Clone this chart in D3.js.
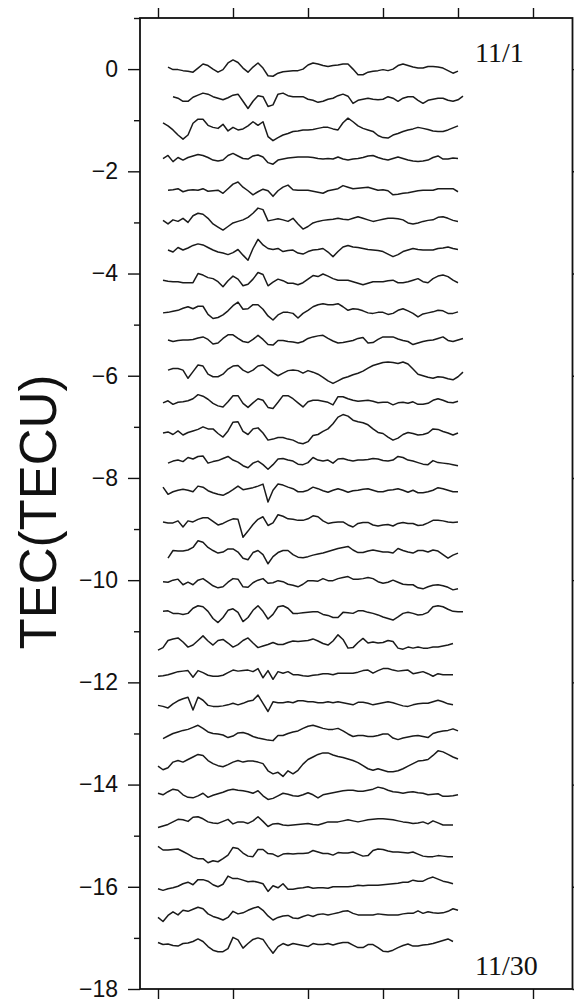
<!DOCTYPE html>
<html>
<head>
<meta charset="utf-8">
<script src="https://cdn.jsdelivr.net/npm/d3@7"></script>
<style>
  body { margin: 0; background: #fff; }
  svg { display: block; }
</style>
</head>
<body>
<svg id="chart" width="574" height="1000"></svg>
<script>
//
//Data: one trace per day, stacked downwards
//

var days = ["11/1", "11/2", "11/3", "11/4", "11/5", "11/6", "11/7", "11/8", "11/9", "11/10",
  "11/11", "11/12", "11/13", "11/14", "11/15", "11/16", "11/17", "11/18", "11/19", "11/20",
  "11/21", "11/22", "11/23", "11/24", "11/25", "11/26", "11/27", "11/28", "11/29", "11/30"];

//Vertical offset of each trace (TECU)
var baseline = [0.02, -0.57, -1.16, -1.75, -2.37, -2.95, -3.54, -4.16, -4.75, -5.30,
  -5.92, -6.51, -7.10, -7.68, -8.24, -8.86, -9.44, -10.03, -10.62, -11.21,
  -11.82, -12.41, -13.00, -13.59, -14.17, -14.74, -15.35, -15.97, -16.52, -17.14];

//Sample index where each trace begins
var startIdx = [2, 3, 1, 1, 2, 1, 2, 1, 1, 2, 2, 1, 1, 2, 1, 1, 2, 1, 1, 0, 0, 0, 1, 0, 0, 0, 0, 0, 0, 0];

//TEC variation around the offset, in 0.01 TECU
var tecDev = [
  [2,-3,-3,-5,-6,-8,0,8,5,-2,-8,-3,10,16,11,0,-8,2,10,0,-15,-16,-10,-7,-6,-5,-5,-2,6,10,8,5,3,5,6,8,8,-2,-13,-13,-8,-6,-5,-3,-5,-2,5,8,5,2,0,0,3,3,2,0,-5,-10,-6],
  [3,0,-6,-6,2,6,10,8,3,0,-3,1,6,8,-6,-20,-6,5,3,-16,-13,8,10,5,3,3,3,-2,-4,-8,-6,-2,0,5,8,4,-10,-4,-2,0,-2,-3,-2,3,0,-6,0,3,3,-4,-10,-4,-2,0,0,-4,-6,-3,4],
  [11,5,-3,-13,-21,-13,10,18,18,6,2,0,8,-5,2,-3,-1,5,13,6,13,-16,-24,-18,-13,-10,-6,-5,-3,-3,-2,0,2,2,-1,-3,11,20,13,5,0,-3,-6,-14,-18,-19,-13,-10,-6,-3,-1,2,0,-2,-5,-6,-6,-3,1,5],
  [0,6,-6,2,-3,2,5,8,6,2,-3,-5,-3,6,10,5,0,-1,5,7,3,-8,-11,-3,-1,1,2,3,3,3,2,0,-1,0,-1,3,-1,-3,-1,0,2,5,6,2,-1,-3,0,3,0,-3,-5,-6,-5,-3,2,5,-1,-1,1,0],
  [0,1,3,-3,0,1,0,3,-2,-1,0,-6,3,12,16,6,-1,-9,-3,2,-1,-12,-1,6,10,1,0,0,0,-2,-4,-6,-1,1,3,9,6,3,4,5,6,3,0,1,-1,-9,-8,-6,-5,-3,-1,0,0,0,3,3,3,3,-3],
  [-1,-8,0,-3,3,-5,8,13,11,3,-8,-14,-20,-13,-6,-3,0,5,13,23,20,-2,0,2,0,-3,3,-8,-18,-13,-6,-3,-1,0,1,3,1,0,3,6,3,0,-3,-1,1,3,3,2,0,-6,-8,-6,-3,-1,0,5,6,3,-1,-3],
  [0,-4,5,0,4,9,12,10,5,0,-4,-6,-9,-5,1,-10,-20,3,21,10,3,1,3,-3,-1,0,-6,-8,-3,0,1,3,-4,-13,-3,6,9,6,5,3,1,0,-1,-3,-8,-13,-9,-3,0,3,1,0,0,0,3,4,6,3,1],
  [3,1,0,0,-2,-2,-2,16,13,8,6,0,-10,2,11,5,-8,-5,5,18,14,-8,-1,5,2,-3,-3,-6,-2,5,12,10,15,11,6,3,3,3,0,-3,-6,-3,0,0,0,2,3,-2,-2,0,3,6,0,-2,6,11,13,10,3,-2],
  [-2,-1,1,3,7,10,6,11,11,-5,-13,-11,-6,2,12,19,5,6,14,14,5,-8,-16,-6,-1,-1,-3,-12,-3,3,10,14,16,14,14,16,10,3,6,5,2,-2,-3,-1,-1,-5,-3,3,6,2,-3,-10,-4,-2,0,3,2,-3,-3,0],
  [0,-3,-1,0,0,1,4,6,1,-8,-6,3,10,10,3,-3,-5,1,9,1,-9,-10,-1,-1,-3,-4,-6,-3,3,6,8,9,3,-2,-6,-5,-3,-1,3,5,-6,-5,1,6,6,6,2,-1,-3,-9,-6,-3,-1,0,3,6,-1,-3,0,3],
  [3,6,6,3,-13,0,13,11,-5,-10,-10,-5,5,11,12,3,-2,3,11,13,6,-2,-8,-3,2,3,2,-3,2,-1,-5,-11,-18,-23,-18,-13,-10,-6,-3,1,7,12,15,18,19,18,16,19,15,5,-5,-8,-11,-13,-10,-11,-14,-16,-10,-1],
  [-2,2,-5,-1,0,2,6,14,11,5,-3,-8,-10,0,12,12,-3,-11,-2,6,3,-11,-13,-1,12,12,6,-2,-10,0,3,3,1,-1,-6,10,10,6,3,1,2,3,1,-2,-1,-1,-6,-2,-1,-3,0,-5,-5,-3,3,6,3,-1,-2,1],
  [-2,0,-5,2,-6,-1,2,5,10,6,6,-3,-10,2,19,20,1,-5,6,8,-2,-16,-14,-11,-11,-14,-16,-21,-23,-19,-7,-5,1,6,16,29,34,31,23,20,18,14,6,-1,-3,-10,-16,-12,-5,-1,-3,-6,-5,-2,6,5,1,-2,-6,-2],
  [-3,1,3,0,8,5,10,11,-3,0,2,6,10,3,-1,-8,-12,-3,1,-6,-15,-6,5,6,3,1,-5,-6,-2,8,3,1,3,-3,5,6,3,1,3,3,4,6,5,2,1,3,10,8,3,1,-2,-5,-6,2,-2,-3,-4,-6,-8],
  [6,-8,-3,0,2,0,-3,8,6,-1,-5,-8,-10,-5,1,8,1,3,5,8,12,-23,0,12,10,6,3,-3,-3,0,6,3,-1,-4,0,3,0,-4,-1,0,2,3,0,-3,-3,0,1,3,0,-4,0,-5,-5,-3,0,5,3,0,-3,-3],
  [0,-2,-2,2,-10,2,0,5,8,8,1,-6,-3,2,6,5,-30,-18,-5,5,10,-7,-2,14,11,6,5,3,3,6,12,10,2,-3,-1,0,0,-6,-10,-3,-1,-1,-6,-8,-6,-5,-8,-3,-1,-3,-3,-7,-6,-2,3,3,2,0,-1,0],
  [-13,2,1,1,3,8,21,18,8,2,-3,-1,5,5,-1,-13,-16,-2,2,-6,-24,-10,-2,2,2,-6,-11,-12,-10,-7,-5,-3,0,3,6,8,10,3,-2,-2,1,3,1,-1,-1,-3,6,2,-1,-3,2,2,-1,3,1,-6,-13,-7,-3],
  [0,-1,3,5,-6,-1,-6,3,6,-1,-8,-12,-10,-1,6,5,-10,-11,-2,3,6,-3,-2,2,0,-5,-7,-10,-5,2,2,1,6,2,2,6,8,10,5,5,6,8,6,0,-3,-1,3,-1,-5,-6,-6,-12,-14,-10,-7,-6,-8,-11,-16,-14],
  [1,2,-3,-3,-5,-3,7,12,10,1,-13,-21,-11,3,6,-1,-19,-11,3,12,1,-14,-5,10,12,7,-3,-3,-2,-1,0,0,-5,-7,-11,-11,-1,-2,-3,2,2,-1,-3,-6,-10,-13,-16,-10,-3,-1,-3,-6,-5,-1,10,12,10,5,1,0,0],
  [-16,-11,3,6,8,0,-10,-6,3,12,2,-6,3,5,-2,-10,-5,3,8,-2,-11,-8,-5,-1,-5,-5,-1,2,1,2,3,6,2,-3,-6,2,14,5,-12,-11,-1,7,-2,0,-2,-1,3,1,-12,-14,-10,-12,-10,-12,-12,-10,-10,-8,-6,-3],
  [-6,-5,-3,0,3,4,5,-8,5,1,-4,-6,-6,-4,1,6,4,5,6,3,9,-9,5,-12,3,0,3,-3,-3,-5,-6,-4,-3,-1,-1,-3,0,0,0,0,2,5,6,0,5,9,9,6,4,5,6,-1,1,3,-1,-6,-1,-3,-3,-3],
  [-4,-6,-9,-1,5,9,12,-13,12,6,-4,-6,-6,-5,-3,0,-3,0,4,6,16,0,-16,3,1,1,3,1,5,5,3,3,1,1,3,1,3,1,-1,-3,2,2,0,-3,-1,1,3,1,-2,-5,-6,-3,-1,0,0,3,6,3,-1,-3],
  [-10,-5,0,3,6,8,12,16,10,3,0,-1,-3,-8,-5,1,2,-1,-6,-9,-11,-13,-14,-4,-4,0,3,5,10,14,16,13,10,8,8,10,5,-1,-6,-4,-4,-6,-6,-4,-1,-1,-9,-12,-9,-7,-5,-4,-6,-8,0,3,5,6,9,5],
  [-5,-12,-8,3,6,3,8,13,18,16,6,0,-4,-6,-2,3,6,3,5,5,3,0,-14,-20,-17,-25,-14,-20,-13,-1,8,13,18,21,21,17,14,12,9,6,2,-4,-10,-13,-10,-13,-16,-16,-14,-10,-5,0,5,6,8,16,25,23,18,13,9],
  [0,-3,3,8,6,-3,-8,-9,-5,0,-8,-4,-1,2,6,8,6,5,3,0,5,-5,-12,-10,-5,0,-2,-5,-6,-3,1,-3,-9,-3,-1,1,3,5,6,6,4,4,6,8,12,10,6,3,2,0,2,3,1,0,-3,-2,-1,-6,-6,-5,-3],
  [-10,-7,-4,1,6,5,2,10,11,7,1,-1,-2,2,6,-3,1,1,-2,3,11,2,-8,-3,-2,-5,-6,-5,-4,-3,-2,-4,-5,-2,1,1,1,3,5,3,1,3,5,6,7,7,6,5,3,1,0,-2,-1,1,-3,3,-1,-5,-5,-5],
  [14,7,7,8,9,4,-1,-7,-10,-10,-18,-14,-16,-10,-3,12,10,1,-5,-6,8,8,0,-1,-6,-1,0,-1,0,0,1,6,3,0,0,-3,2,1,1,3,-1,-5,-4,6,9,8,5,3,3,2,1,3,-1,-5,-6,-6,-4,-5,-6,-6],
  [-7,-10,-7,-5,-2,3,6,1,11,11,8,1,-3,2,18,13,13,10,7,8,6,3,-12,-1,-5,3,-8,-8,-6,-5,-3,-6,-5,-5,-6,-3,-3,-3,-3,-2,0,-1,0,0,0,1,2,3,4,6,6,10,8,8,13,16,12,8,6,3],
  [-8,-16,-4,3,-3,6,4,8,12,9,-1,-6,-9,-13,-8,4,-1,1,6,10,13,6,-5,-13,-8,-5,-4,-9,-10,-6,-3,-6,-2,-1,-3,-1,1,4,5,0,-3,-3,-3,-3,-1,-2,-3,-3,-3,-1,0,0,5,0,3,1,0,1,4,9,6],
  [5,1,2,-1,-2,3,4,7,12,7,-3,-10,-13,-13,-7,15,10,-6,3,11,14,11,-3,-16,-3,3,-1,3,1,-1,-3,3,1,1,3,0,3,5,5,0,-5,-5,1,1,-5,-12,-13,-10,-5,-1,2,-2,-2,0,1,3,6,9,12,7]
];

//Axis ticks
var yMajor = [-18, -16, -14, -12, -10, -8, -6, -4, -2, 0];
var yMinor = [-17, -15, -13, -11, -9, -7, -5, -3, -1, 1];
var xTicks = [0, 15, 30, 45, 60, 75];


//
//Set up scales
//

var plotLeft = 140, plotRight = 572.5, plotTop = 18, plotBottom = 989;

var x = d3.scaleLinear().domain([-3.6, 82.9]).range([plotLeft, plotRight]);
var y = d3.scaleLinear().domain([-18, 1]).range([plotBottom, plotTop]);

var svg = d3.select("#chart");
var sans = "'Liberation Sans', Arial, Helvetica, sans-serif";
var serif = "'Liberation Serif', 'Times New Roman', serif";


//
//Axes
//

function styleAxis(g) {
  g.select(".domain").remove();
  g.selectAll(".tick line").attr("stroke", "#111").attr("stroke-width", 1.4);
  g.selectAll(".tick text").attr("fill", "#111").style("font-family", sans).style("font-size", "23px");
}

svg.append("g")
  .attr("transform", "translate(" + plotLeft + ",0)")
  .call(d3.axisLeft(y).tickValues(yMajor).tickSize(12).tickPadding(10))
  .call(styleAxis);

svg.append("g")
  .attr("transform", "translate(" + plotLeft + ",0)")
  .call(d3.axisLeft(y).tickValues(yMinor).tickSize(6).tickFormat(""))
  .call(styleAxis);

svg.append("g")
  .attr("transform", "translate(" + plotRight + ",0)")
  .call(d3.axisRight(y).tickValues(yMajor).tickSize(12).tickFormat(""))
  .call(styleAxis);

svg.append("g")
  .attr("transform", "translate(0," + plotTop + ")")
  .call(d3.axisTop(x).tickValues(xTicks).tickSize(10).tickFormat(""))
  .call(styleAxis);

svg.append("g")
  .attr("transform", "translate(0," + plotBottom + ")")
  .call(d3.axisBottom(x).tickValues(xTicks).tickSize(10).tickFormat(""))
  .call(styleAxis);

//Frame
svg.append("rect")
  .attr("x", plotLeft)
  .attr("y", plotTop)
  .attr("width", plotRight - plotLeft)
  .attr("height", plotBottom - plotTop)
  .attr("fill", "none")
  .attr("stroke", "#111")
  .attr("stroke-width", 1.8);


//
//Draw traces
//

tecDev.forEach(function(dev, i) {
  var line = d3.line()
    .x(function(d, k) { return x(startIdx[i] + k); })
    .y(function(d) { return y(baseline[i] + d / 100); });

  svg.append("path")
    .datum(dev)
    .attr("d", line)
    .attr("fill", "none")
    .attr("stroke", "#1a1a1a")
    .attr("stroke-width", 1.5)
    .attr("stroke-linejoin", "round");
});


//
//Labels
//

svg.append("text")
  .attr("transform", "translate(56,512) rotate(-90)")
  .attr("text-anchor", "middle")
  .style("font-family", sans)
  .style("font-size", "51px")
  .attr("fill", "#111")
  .text("TEC(TECU)");

svg.append("text")
  .attr("x", 475)
  .attr("y", 62)
  .style("font-family", serif)
  .style("font-size", "28px")
  .attr("fill", "#111")
  .text(days[0]);

svg.append("text")
  .attr("x", 475)
  .attr("y", 975)
  .style("font-family", serif)
  .style("font-size", "28px")
  .attr("fill", "#111")
  .text(days[days.length - 1]);
</script>
</body>
</html>
